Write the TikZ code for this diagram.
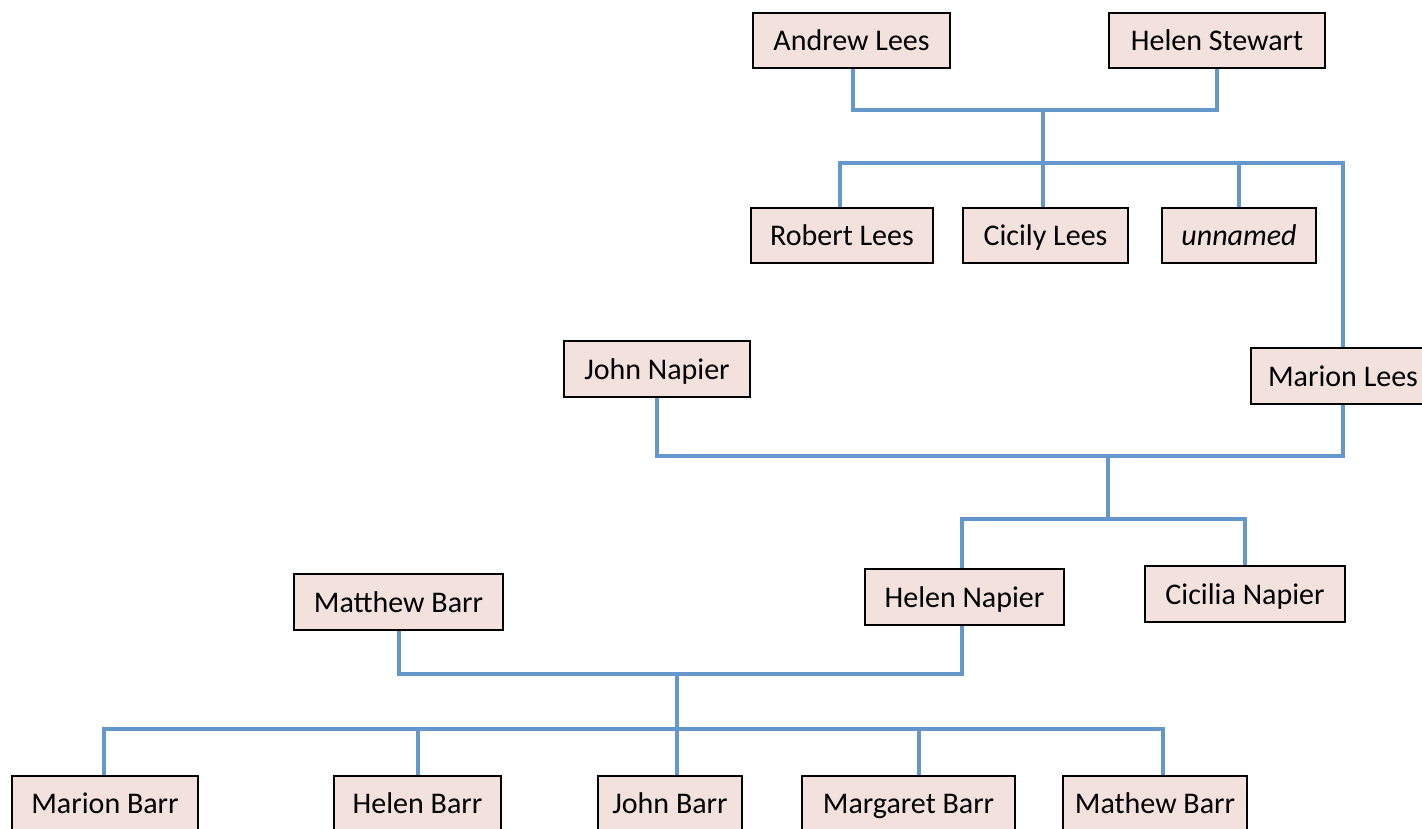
\documentclass[tikz,border=0pt]{standalone}
\usepackage{fontspec}
\setmainfont{Carlito}
\definecolor{boxfill}{RGB}{242,225,220}
\definecolor{link}{RGB}{100,152,204}
\begin{document}
\begin{tikzpicture}[x=1pt,y=-1pt,
  person/.style={draw=black,fill=boxfill,line width=1.6pt,rectangle,inner sep=0pt,
    minimum height=55pt,text height=22pt,text depth=2pt,
    font=\fontsize{30}{36}\selectfont},
  link/.style={draw=link,line width=4pt}]
\useasboundingbox (0,0) rectangle (1422,829);

% first generation
\node[person,minimum width=197pt] (andrew) at (851.5,40.5) {Andrew Lees};
\node[person,minimum width=216pt] (helenS) at (1217,40.5) {Helen Stewart};
\node[person,minimum width=182pt] (robert) at (842,235.5) {Robert Lees};
\node[person,minimum width=165pt] (cicily) at (1045.5,235.5) {Cicily Lees};
\node[person,minimum width=154pt] (unnamed) at (1239,235.5) {\itshape unnamed};

% second generation
\node[person,minimum width=186pt,minimum height=56pt] (johnN) at (657,369) {John Napier};
\node[person,minimum width=184pt,minimum height=56pt] (marionL) at (1343,376) {Marion Lees};
\node[person,minimum width=199pt,minimum height=56pt] (helenN) at (964.5,597) {Helen Napier};
\node[person,minimum width=200pt,minimum height=56pt] (cicilia) at (1245,594) {Cicilia Napier};

% third generation
\node[person,minimum width=209pt,minimum height=56pt] (matthew) at (398.5,602) {Matthew Barr};
\node[person,minimum width=186pt] (marionB) at (105,803.5) {Marion Barr};
\node[person,minimum width=167pt] (helenB) at (417.5,803.5) {Helen Barr};
\node[person,minimum width=144pt] (johnB) at (670,803.5) {John Barr};
\node[person,minimum width=213pt] (margaret) at (908.5,803.5) {Margaret Barr};
\node[person,minimum width=184pt] (mathewB) at (1155,803.5) {Mathew Barr};

% junction points
\coordinate (m1) at (1043,110);
\coordinate (c1) at (1043,163);
\coordinate (m2) at (1108,456);
\coordinate (c2) at (1108,519);
\coordinate (m3) at (677,674);
\coordinate (c3) at (677,729);

% Lees family
\draw[link] ([xshift=1.5pt]andrew.south) |- (m1) -| (helenS.south);
\draw[link] (m1) -- (c1);
\draw[link] ([xshift=-2pt]robert.north) |- (c1) -| (marionL.north);
\draw[link] (c1) -- (c1 |- cicily.north);
\draw[link] (unnamed.north) -- (unnamed.north |- c1);

% Napier family
\draw[link] (johnN.south) |- (m2) -| (marionL.south);
\draw[link] (m2) -- (c2);
\draw[link] ([xshift=-2.5pt]helenN.north) |- (c2) -| (cicilia.north);

% Barr family
\draw[link] (matthew.south) |- (m3) -| ([xshift=-2.5pt]helenN.south);
\draw[link] (m3) -- (c3);
\draw[link] ([xshift=-1pt]marionB.north) |- (c3) -| ([xshift=8pt]mathewB.north);
\draw[link] (c3) -- (c3 |- johnB.north);
\draw[link] (helenB.north) -- (helenB.north |- c3);
\draw[link] ([xshift=10.5pt]margaret.north) -- ([xshift=10.5pt]margaret.north |- c3);
\end{tikzpicture}
\end{document}
